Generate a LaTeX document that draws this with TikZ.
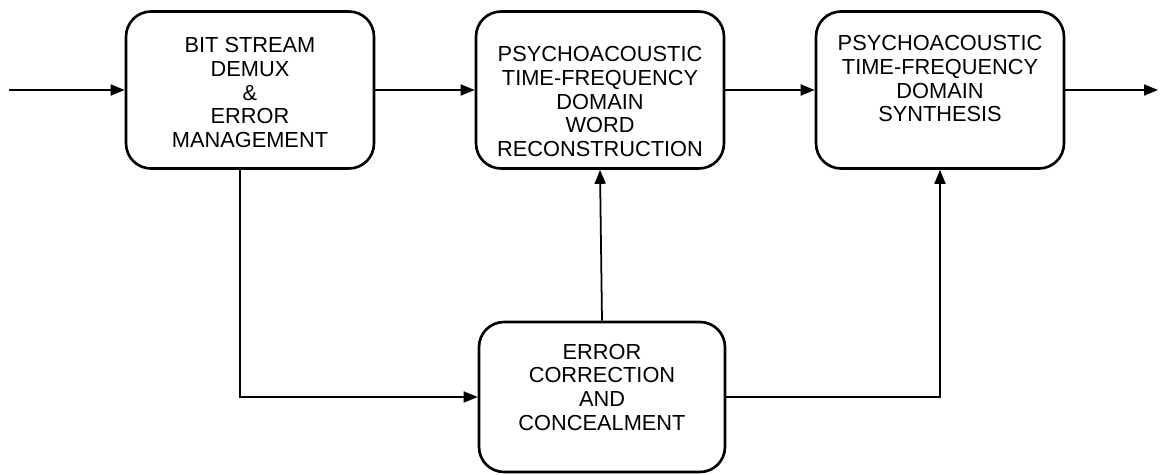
\documentclass[tikz,border=0pt]{standalone}
\usepackage{fontspec}
\setmainfont{Liberation Sans}
\usepackage{tikz}
\usetikzlibrary{arrows.meta, positioning}
\tikzset{
	blk/.style={draw=black, line width=1.5pt, rounded corners=0.5cm,
		minimum width=4.96cm, minimum height=3.14cm, inner sep=0pt},
	txt/.style={align=center, inner sep=0pt, font=\fontsize{12.4}{13.5}\selectfont},
	arr/.style={-{Triangle[length=0.28cm, width=0.22cm]}, line width=1pt, black},
}
\begin{document}
\begin{tikzpicture}[x=0.02cm, y=-0.02cm]
	\useasboundingbox (0,0) rectangle (1160,474);
	\node[blk] (demux) at (250,90) {};
	\node[blk] (recon) at (600,90) {};
	\node[blk] (synth) at (940,90) {};
	\node[blk, minimum width=4.92cm, minimum height=3.0cm] (conceal) at (602,397) {};
	\node[txt, below=0.54cm of demux.north] (demuxtxt) {BIT STREAM\\DEMUX\\\&\\ERROR\\MANAGEMENT};
	\node[txt, below=0.72cm of recon.north] (recontxt) {PSYCHOACOUSTIC\\TIME-FREQUENCY\\DOMAIN\\WORD\\RECONSTRUCTION};
	\node[txt, below=0.5cm of synth.north] (synthtxt) {PSYCHOACOUSTIC\\TIME-FREQUENCY\\DOMAIN\\SYNTHESIS};
	\node[txt, below=0.46cm of conceal.north] (concealtxt) {ERROR\\CORRECTION\\AND\\CONCEALMENT};
	\coordinate (in) at (9,90);
	\coordinate (out) at (1158,90);
	\foreach \a/\b in {in/demux, demux/recon, recon/synth, synth/out}
	\draw[arr] (\a) -- (\b);
	\draw[arr] ([xshift=-0.2cm]demux.south) |- (conceal.west);
	\draw[arr] (conceal.north) -- (recon.south);
	\draw[arr] (conceal.east) -| (synth.south);
\end{tikzpicture}
\end{document}
